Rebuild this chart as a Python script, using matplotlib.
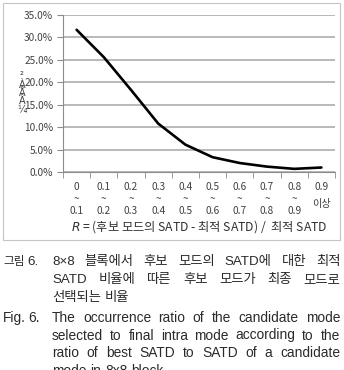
import numpy as np
import matplotlib
matplotlib.use("Agg")
import matplotlib.pyplot as plt
from matplotlib.patches import Rectangle
from matplotlib.ticker import FuncFormatter

plt.rcParams['font.family'] = ['Noto Sans CJK KR', 'DejaVu Sans']

# data
categories = ["0\n~\n0.1", "0.1\n~\n0.2", "0.2\n~\n0.3", "0.3\n~\n0.4", "0.4\n~\n0.5",
              "0.5\n~\n0.6", "0.6\n~\n0.7", "0.7\n~\n0.8", "0.8\n~\n0.9", "0.9\n이상"]
ratio = [31.7, 25.6, 18.3, 10.8, 6.1, 3.3, 2.0, 1.2, 0.7, 1.0]
yticks = [0, 5, 10, 15, 20, 25, 30, 35]
xlabel = "$\\it{R}$ = (후보 모드의 SATD - 최적 SATD) /  최적 SATD"
ylabel = "²\nÀ\nÅ\nÂ\n¼"

cap_ko = ["8×8 블록에서 후보 모드의 SATD에 대한 최적",
          "SATD 비율에 따른 후보 모드가 최종 모드로",
          "선택되는 비율"]
cap_en = ["The occurrence ratio of the candidate mode",
          "selected to final intra mode according to the",
          "ratio of best SATD to SATD of a candidate",
          "mode in 8x8 block."]

W, H = 344, 370
fig = plt.figure(figsize=(W / 100, H / 100), dpi=100)

# chart frame
fig.patches.append(Rectangle((3 / W, 1 - 240 / H), 337 / W, 237 / H, transform=fig.transFigure,
                             fill=False, edgecolor='#c4c4c4', lw=0.8))

ax = fig.add_axes([63 / W, 1 - 172 / H, 272 / W, 157 / H])
x = np.arange(len(categories))
ax.plot(x, ratio, color='black', lw=1.9, solid_capstyle='round', zorder=3)

ax.set_xlim(-0.5, len(categories) - 0.5)
ax.set_ylim(0, 35)
ax.set_yticks(yticks)
ax.yaxis.set_major_formatter(FuncFormatter(lambda v, p: "%.1f%%" % v))
ax.yaxis.grid(True, color='#a6a6a6', lw=1.1)
ax.set_axisbelow(True)
for s in ['top', 'right']:
    ax.spines[s].set_visible(False)
ax.spines['left'].set_color('#8c8c8c')
ax.spines['bottom'].set_color('#8c8c8c')
ax.tick_params(axis='y', length=4, color='#8c8c8c', labelsize=7.3, labelcolor='#404040', pad=3)

ax.set_xticks(x)
ax.set_xticks(np.arange(len(categories) + 1) - 0.5, minor=True)
ax.set_xticklabels(categories, fontsize=7.3, color='#404040', linespacing=1.25)
ax.tick_params(axis='x', which='major', length=0, pad=7)
ax.tick_params(axis='x', which='minor', length=4, color='#8c8c8c')
ax.get_xticklabels()[-1].set_linespacing(1.9)
ax.get_xticklabels()[-1].set_verticalalignment('top')

ax.set_xlabel(xlabel, fontsize=8.8, color='#303030', labelpad=2)
fig.text(22 / W, 1 - 93 / H, ylabel, fontsize=7, ha='center', va='center',
         linespacing=0.8, color='#404040', family=['DejaVu Sans'])

# caption, justified like the journal layout
renderer = fig.canvas.get_renderer()


def put_line(words, y, x0, x1, justify, **kw):
    texts = [fig.text(0, 1 - y / H, w, va='center', **kw) for w in words]
    widths = [t.get_window_extent(renderer).width for t in texts]
    sp = texts[0].get_fontsize() * 0.4
    gap = (x1 - x0 - sum(widths)) / (len(words) - 1) if justify else sp
    xx = x0
    for t, w in zip(texts, widths):
        t.set_x(xx / W)
        xx += w + gap


ko = dict(fontsize=9.6, color='#2a2a2a', family=['Liberation Sans', 'Noto Sans CJK KR'])
en = dict(fontsize=9.9, color='#2a2a2a', family=['Liberation Sans Narrow', 'Liberation Sans', 'DejaVu Sans'])

fig.text(3 / W, 1 - 262 / H, "그림", va='center', fontsize=8.4, color='#2a2a2a')
fig.text(27 / W, 1 - 262 / H, "6.", va='center', **ko)
ys_ko = [262, 280, 298]
for i, line in enumerate(cap_ko):
    put_line(line.split(), ys_ko[i], 52, 340.5, i < len(cap_ko) - 1, **ko)

fig.text(3 / W, 1 - 318 / H, "Fig.", va='center', **en)
fig.text(28 / W, 1 - 318 / H, "6.", va='center', **en)
ys_en = [318, 335.5, 353, 371]
for i, line in enumerate(cap_en):
    put_line(line.split(), ys_en[i], 52, 340, i < len(cap_en) - 1, **en)

fig.savefig("out.png", dpi=100)
